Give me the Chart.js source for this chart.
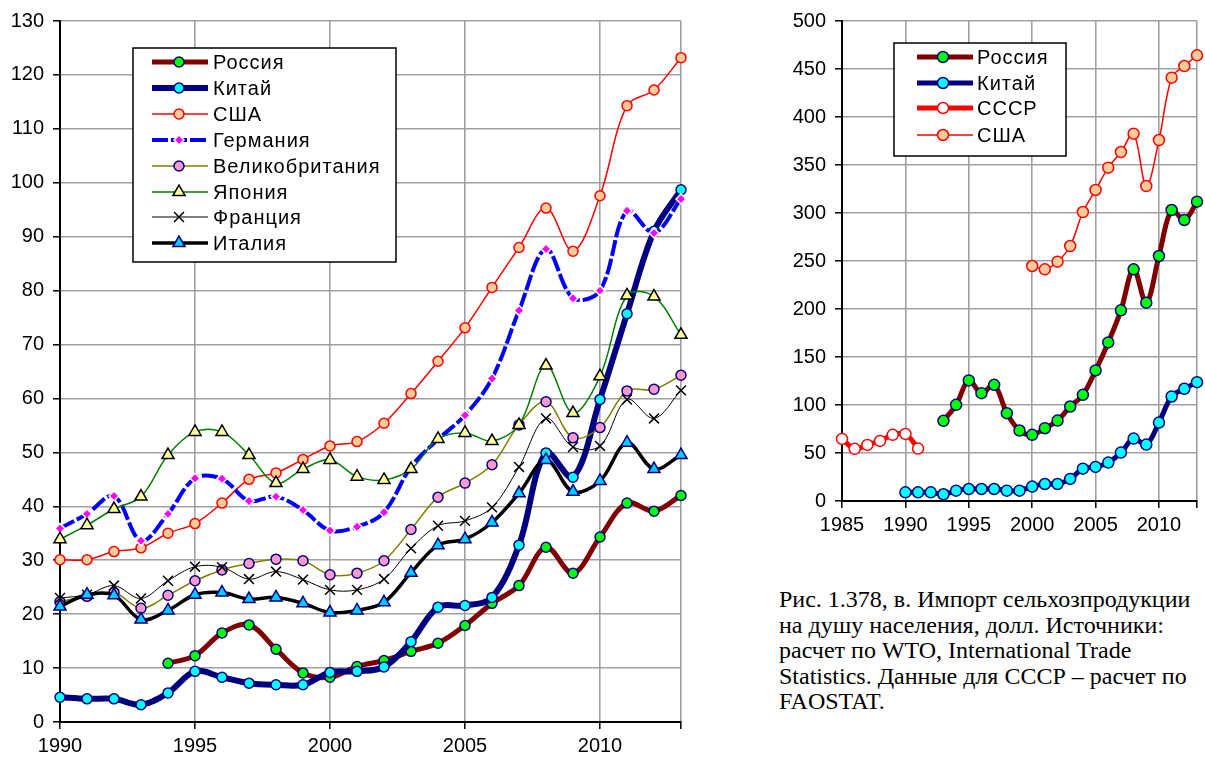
<!DOCTYPE html>
<html>
<head>
<meta charset="utf-8">
<script src="https://cdn.jsdelivr.net/npm/chart.js"></script>
<style>
  body { margin: 0; background: #fff; width: 1205px; height: 760px; position: relative; overflow: hidden; }
  #left { position: absolute; left: 0; top: 0; }
  #right { position: absolute; left: 760px; top: 0; }
  #caption {
    position: absolute; left: 779px; top: 587px;
    font-family: "Liberation Serif", "Times New Roman", serif;
    font-size: 24px; line-height: 25.6px; color: #000; white-space: nowrap;
  }
</style>
</head>
<body>
<canvas id="left" width="700" height="760"></canvas>
<canvas id="right" width="445" height="539"></canvas>
<div id="caption">Рис. 1.378, в. Импорт сельхозпродукции<br>на душу населения, долл. Источники:<br>расчет по WTO, International Trade<br>Statistics. Данные для СССР – расчет по<br>FAOSTAT.</div>
<script>
// left chart: 1990-2013
var yearsL = [1990,1991,1992,1993,1994,1995,1996,1997,1998,1999,2000,2001,
              2002,2003,2004,2005,2006,2007,2008,2009,2010,2011,2012,2013];
var russiaL  = [null,null,null,null,10.9,12.3,16.5,18.0,13.5,9.1,8.3,10.3,11.4,13.1,14.6,17.9,22.0,25.3,32.4,27.6,34.3,40.6,39.1,42.0];
var chinaL   = [4.6,4.3,4.3,3.2,5.4,9.4,8.3,7.2,6.9,6.9,9.2,9.4,10.2,14.9,21.3,21.6,23.1,32.8,49.9,45.4,59.8,75.7,91.0,98.7];
var usaL     = [30.1,30.1,31.6,32.3,35.0,36.8,40.6,45.0,46.2,48.7,51.2,52.0,55.4,60.9,66.9,73.1,80.6,88.0,95.3,87.3,97.6,114.3,117.2,123.2];
var germanyL = [35.9,38.6,41.9,33.6,38.6,45.2,45.1,41.0,41.8,39.3,35.5,36.2,38.9,47.3,52.4,56.9,63.7,76.3,87.7,78.6,80.0,94.8,90.7,97.0];
var ukL      = [22.3,23.3,24.0,21.1,23.5,26.2,28.2,29.4,30.2,29.9,27.3,27.6,29.9,35.7,41.7,44.3,47.7,55.1,59.4,52.7,54.6,61.4,61.7,64.3];
var japanL   = [33.9,36.5,39.5,41.8,49.5,53.8,53.8,49.5,44.3,46.9,48.6,45.5,44.9,46.9,52.5,53.6,52.1,55.1,66.1,57.3,64.1,79.1,78.9,71.8];
var franceL  = [23.0,23.6,25.3,22.9,26.2,28.8,28.7,26.5,27.9,26.4,24.5,24.5,26.5,32.2,36.4,37.3,39.8,47.3,56.3,51.0,51.2,59.8,56.3,61.5];
var italyL   = [21.4,23.6,23.5,19.0,20.7,23.6,24.0,22.8,23.1,22.0,20.3,20.7,22.2,27.7,32.8,33.9,37.0,42.4,48.6,42.7,44.7,51.8,46.9,49.5];

// right chart: 1985-2013
var yearsR = [1985,1986,1987,1988,1989,1990,1991,1992,1993,1994,1995,1996,1997,1998,1999,
              2000,2001,2002,2003,2004,2005,2006,2007,2008,2009,2010,2011,2012,2013];
var russiaR = [null,null,null,null,null,null,null,null,83.5,100.2,125.6,112.3,121.0,91.5,73.4,
               68.9,75.8,83.8,98.4,110.6,136.0,165.2,198.6,241.3,206.6,255.2,303.1,292.7,311.8];
var chinaR  = [null,null,null,null,null,9.0,9.0,9.0,7.0,10.8,12.5,12.5,12.5,10.8,10.8,
               15.0,17.7,17.7,23.0,33.7,35.5,40.0,50.4,65.0,58.8,81.7,108.9,116.9,123.8];
var ussrR   = [64.7,54.3,58.4,62.6,68.9,69.9,54.6,null,null,null,null,null,null,null,null,
               null,null,null,null,null,null,null,null,null,null,null,null,null,null];
var usaR    = [null,null,null,null,null,null,null,null,null,null,null,null,null,null,null,
               244.8,241.3,249.3,265.6,301.0,324.0,347.2,363.5,382.6,328.1,376.0,441.0,453.1,464.2];

// x ticks (the last one only carries the right-hand grid line)
var xTicksL = [1990,1995,2000,2005,2010,2013];
var xTicksR = [1985,1990,1995,2000,2005,2010,2013];

function pts(years, vals) {
  var out = [];
  for (var i = 0; i < years.length; i++) {
    if (vals[i] !== null) out.push({x: years[i], y: vals[i]});
  }
  return out;
}

function series(label, years, vals, st) {
  return Object.assign({
    label: label,
    data: pts(years, vals),
    tension: 0.35,
    clip: false,
    fill: false,
    pointHoverRadius: st.pointRadius
  }, st);
}

// legend drawn inside the plot like the Excel one
var boxLegend = {
  id: 'boxLegend',
  afterDraw: function (chart, args, o) {
    var ctx = chart.ctx;
    ctx.save();
    ctx.fillStyle = '#fff';
    ctx.fillRect(o.box[0], o.box[1], o.box[2], o.box[3]);
    ctx.strokeStyle = '#000';
    ctx.lineWidth = 1.5;
    ctx.strokeRect(o.box[0], o.box[1], o.box[2], o.box[3]);
    chart.data.datasets.forEach(function (ds, i) {
      var y = o.rows[i];
      ctx.strokeStyle = ds.borderColor;
      ctx.lineWidth = ds.borderWidth;
      ctx.setLineDash(ds.borderDash || []);
      ctx.beginPath();
      ctx.moveTo(o.x0, y);
      ctx.lineTo(o.x1, y);
      ctx.stroke();
      ctx.setLineDash([]);
      ctx.fillStyle = ds.pointBackgroundColor;
      ctx.strokeStyle = ds.pointBorderColor;
      ctx.lineWidth = ds.pointBorderWidth;
      Chart.helpers.drawPoint(ctx, {
        pointStyle: ds.pointStyle, rotation: 0,
        radius: ds.pointRadius, borderWidth: ds.pointBorderWidth
      }, o.xm, y);
      ctx.fillStyle = '#000';
      ctx.font = '20px "Liberation Sans", Arial, sans-serif';
      ctx.letterSpacing = '1px';
      ctx.textBaseline = 'middle';
      ctx.fillText(ds.label, o.xt, y + 1);
      ctx.letterSpacing = '0px';
    });
    ctx.restore();
  }
};

function axes(xmin, xmax, xticks, ymax, ystep, yw) {
  var font = {family: '"Liberation Sans", Arial, sans-serif', size: 20};
  return {
    x: {
      type: 'linear', min: xmin, max: xmax,
      afterFit: function (s) { s.height = 38; },
      afterBuildTicks: function (s) { s.ticks = xticks.map(function (v) { return {value: v}; }); },
      ticks: {
        color: '#000', font: font, padding: 5, maxRotation: 0, autoSkip: false,
        callback: function (v) { return v % 5 === 0 ? String(v) : ''; }
      },
      grid: { color: '#a0a0a0', lineWidth: 1.6, tickColor: '#000', tickLength: 7, tickWidth: 1.5 },
      border: { color: '#000', width: 2 }
    },
    y: {
      min: 0, max: ymax,
      afterFit: function (s) { s.width = yw; },
      ticks: { stepSize: ystep, color: '#000', font: font, padding: 9 },
      grid: { color: '#a0a0a0', lineWidth: 1.6, tickColor: '#000', tickLength: 7, tickWidth: 1.5 },
      border: { color: '#000', width: 2 }
    }
  };
}

var leftSets = [
  series('Россия', yearsL, russiaL, {borderColor: '#800000', borderWidth: 5, pointStyle: 'circle', pointRadius: 5,
    pointBackgroundColor: '#00ff00', pointBorderColor: '#000080', pointBorderWidth: 1.5}),
  series('Китай', yearsL, chinaL, {borderColor: '#000080', borderWidth: 6, pointStyle: 'circle', pointRadius: 5,
    pointBackgroundColor: '#00ffff', pointBorderColor: '#000080', pointBorderWidth: 1.5}),
  series('США', yearsL, usaL, {borderColor: '#ff0000', borderWidth: 1.5, pointStyle: 'circle', pointRadius: 5,
    pointBackgroundColor: '#ffcc99', pointBorderColor: '#ff0000', pointBorderWidth: 1.5}),
  series('Германия', yearsL, germanyL, {borderColor: '#0000ff', borderWidth: 4, borderDash: [16, 3], pointStyle: 'rectRot', pointRadius: 5,
    pointBackgroundColor: '#ff00ff', pointBorderColor: '#ffffff', pointBorderWidth: 1.5}),
  series('Великобритания', yearsL, ukL, {borderColor: '#808000', borderWidth: 1.5, pointStyle: 'circle', pointRadius: 5,
    pointBackgroundColor: '#ff99cc', pointBorderColor: '#000080', pointBorderWidth: 1.5}),
  series('Япония', yearsL, japanL, {borderColor: '#008000', borderWidth: 1.5, pointStyle: 'triangle', pointRadius: 7,
    pointBackgroundColor: '#ffff99', pointBorderColor: '#000000', pointBorderWidth: 1.5}),
  series('Франция', yearsL, franceL, {borderColor: '#000000', borderWidth: 1, pointStyle: 'crossRot', pointRadius: 7,
    pointBackgroundColor: '#000000', pointBorderColor: '#000000', pointBorderWidth: 1.5}),
  series('Италия', yearsL, italyL, {borderColor: '#000000', borderWidth: 3.5, pointStyle: 'triangle', pointRadius: 7,
    pointBackgroundColor: '#00ccff', pointBorderColor: '#000080', pointBorderWidth: 1.5})
];
leftSets.forEach(function (d, i) { d.order = leftSets.length - i; });

new Chart(document.getElementById('left'), {
  type: 'line',
  data: { datasets: leftSets },
  options: {
    responsive: false, animation: false, devicePixelRatio: 1,
    layout: { padding: { top: 20, right: 19, bottom: 0, left: 0 } },
    scales: axes(1990, 2013, xTicksL, 130, 10, 60),
    plugins: {
      legend: { display: false }, tooltip: { enabled: false },
      boxLegend: { box: [133, 48, 263, 214], x0: 152, x1: 208, xm: 179, xt: 213,
        rows: [62, 88, 114, 140, 166, 192, 217, 243] }
    }
  },
  plugins: [boxLegend]
});

var rightSets = [
  series('Россия', yearsR, russiaR, {borderColor: '#800000', borderWidth: 5, pointStyle: 'circle', pointRadius: 5.5,
    pointBackgroundColor: '#00ff00', pointBorderColor: '#000080', pointBorderWidth: 1.5}),
  series('Китай', yearsR, chinaR, {borderColor: '#000080', borderWidth: 5, pointStyle: 'circle', pointRadius: 5.5,
    pointBackgroundColor: '#00ffff', pointBorderColor: '#000080', pointBorderWidth: 1.5}),
  series('СССР', yearsR, ussrR, {borderColor: '#ff0000', borderWidth: 5, pointStyle: 'circle', pointRadius: 5.5,
    pointBackgroundColor: '#ffffff', pointBorderColor: '#ff0000', pointBorderWidth: 1.5}),
  series('США', yearsR, usaR, {borderColor: '#ff0000', borderWidth: 1.5, pointStyle: 'circle', pointRadius: 5.5,
    pointBackgroundColor: '#ffcc99', pointBorderColor: '#ff0000', pointBorderWidth: 1.5})
];
rightSets.forEach(function (d, i) { d.order = rightSets.length - i; });

new Chart(document.getElementById('right'), {
  type: 'line',
  data: { datasets: rightSets },
  options: {
    responsive: false, animation: false, devicePixelRatio: 1,
    layout: { padding: { top: 20, right: 8, bottom: 0, left: 0 } },
    scales: axes(1985, 2013, xTicksR, 500, 50, 82),
    plugins: {
      legend: { display: false }, tooltip: { enabled: false },
      boxLegend: { box: [134, 43, 172, 113], x0: 157, x1: 213, xm: 183, xt: 217,
        rows: [57, 83, 108, 135] }
    }
  },
  plugins: [boxLegend]
});
</script>
</body>
</html>
